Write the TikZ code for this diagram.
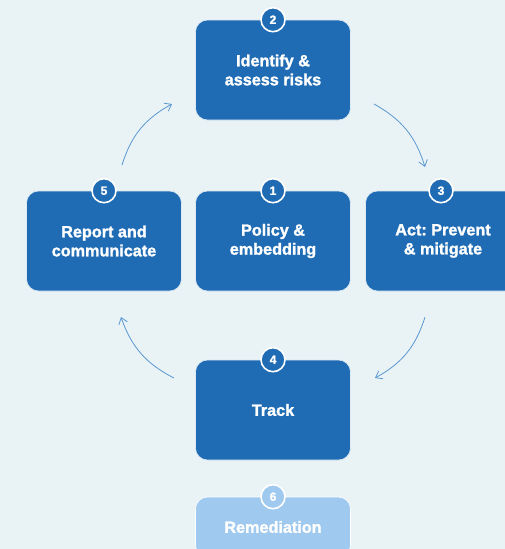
\documentclass[tikz,border=0pt]{standalone}
\usepackage{fontspec}
\setmainfont{Liberation Sans}[BoldFeatures={FakeBold=1.6}]
\usetikzlibrary{arrows.meta}
\definecolor{bg}{HTML}{E9F3F6}
\definecolor{boxblue}{HTML}{1F6CB4}
\definecolor{lightbox}{HTML}{9FC9EE}
\definecolor{arrowc}{HTML}{5B97D0}
\frenchspacing
\tikzset{
  stepbox/.style={rectangle, rounded corners=12pt, fill=boxblue, draw=white!85!boxblue, line width=0.6pt,
    minimum width=155pt, minimum height=100pt, text=white, align=center,
    font=\fontsize{16.2}{19}\selectfont\bfseries},
  lightstep/.style={stepbox, fill=lightbox, draw=white, minimum height=60pt},
  badge/.style={circle, fill=boxblue, draw=white, line width=1.6pt, minimum size=24pt, inner sep=0pt,
    text=white, font=\fontsize{12}{12}\selectfont\bfseries},
  lightbadge/.style={badge, fill=lightbox},
  flow/.style={draw=arrowc, line width=0.8pt, -{Straight Barb[length=6pt,width=9pt]}, bend left=22}
}
\begin{document}
\begin{tikzpicture}[x=1pt,y=-1pt]
\fill[bg] (0,0) rectangle (505,549);
\useasboundingbox (0,0) rectangle (505,549);
\clip (0,0) rectangle (505,549);
\node[stepbox] (s2) at (273,70) {Identify \&\\assess risks};
\node[stepbox] (s1) at (273,241) {Policy \&\\embedding};
\node[stepbox] (s5) at (104,241) {Report and\\communicate};
\node[stepbox] (s3) at (443,241) {Act: Prevent\\\& mitigate};
\node[stepbox] (s4) at (273,410) {Track};
\node[lightstep] (s6) at (273,527) {Remediation};
\node[badge] (b2) at (s2.north) {2};
\node[badge] (b1) at (s1.north) {1};
\node[badge] (b5) at (s5.north) {5};
\node[badge] (b3) at ([xshift=-2pt]s3.north) {3};
\node[badge] (b4) at (s4.north) {4};
\node[lightbadge] (b6) at (s6.north) {6};
\coordinate (a1s) at (122,165);
\coordinate (a1e) at (172,104);
\coordinate (a2s) at (374,104);
\coordinate (a2e) at (425,167);
\coordinate (a3s) at (425,317);
\coordinate (a3e) at (375,378);
\coordinate (a4s) at (174,378);
\coordinate (a4e) at (121,317);
\draw[flow] (a1s) to (a1e);
\draw[flow] (a2s) to (a2e);
\draw[flow] (a3s) to (a3e);
\draw[flow] (a4s) to (a4e);
\end{tikzpicture}
\end{document}
